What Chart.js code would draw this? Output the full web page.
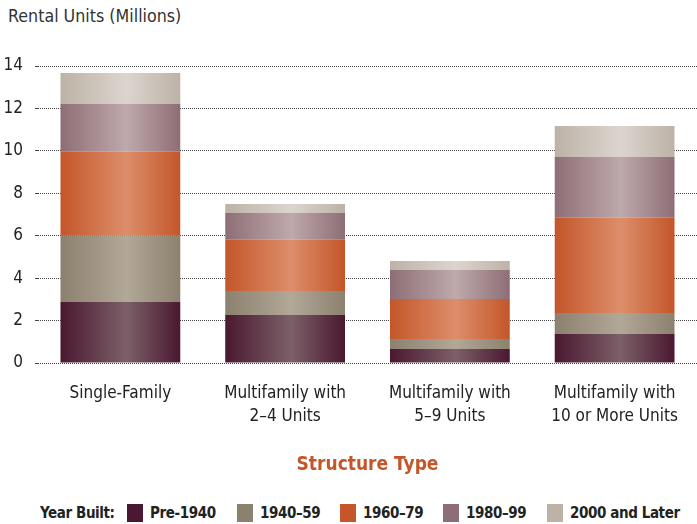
<!DOCTYPE html>
<html>
<head>
<meta charset="utf-8">
<script src="https://cdn.jsdelivr.net/npm/chart.js@4/dist/chart.umd.min.js"></script>
<style>
  body { margin: 0; background: #fff; font-family: "Liberation Sans Narrow", "DejaVu Sans Condensed", sans-serif; }
  #wrap { position: absolute; left: 0; top: 0; width: 697px; height: 480px; }
  #ytitle { position: absolute; left: 8px; top: 6px; font-size: 17.7px; color: #333; }
  #legend { position: absolute; left: 0; top: 502px; width: 697px; height: 22px;
            font-weight: bold; font-size: 15px; letter-spacing: -0.4px; color: #222; white-space: nowrap; }
  #legend span.t { position: absolute; top: 2px; }
  #legend span.sw { position: absolute; top: 2px; width: 16px; height: 18px; }
</style>
</head>
<body>
<div id="ytitle">Rental Units (Millions)</div>
<div id="wrap"><canvas id="myChart"></canvas></div>
<div id="legend"></div>
<script>
const categories = ['Single-Family', ['Multifamily with', '2–4 Units'], ['Multifamily with', '5–9 Units'], ['Multifamily with', '10 or More Units']];
const series_names = ['Pre-1940', '1940–59', '1960–79', '1980–99', '2000 and Later'];
const pre1940 = [2.89, 2.26, 0.66, 1.38];
const built1940_59 = [3.11, 1.13, 0.47, 0.98];
const built1960_79 = [3.96, 2.42, 1.89, 4.49];
const built1980_99 = [2.26, 1.26, 1.36, 2.86];
const built2000_later = [1.45, 0.43, 0.43, 1.46];
const y_ticks = [0, 2, 4, 6, 8, 10, 12, 14];

const edgeColors = ['#4a1830', '#8c806e', '#c4562a', '#8e6e76', '#bcb2a6'];
const midColors = ['#7c6068', '#b2a898', '#dc8e6a', '#bea9ab', '#dcd5cf'];
const barPct = 0.727;
const legendSwatchX = [127, 237, 340, 443, 547];

// horizontal shading across each bar
function barGradient(i) {
    return function(c) {
        const chart = c.chart;
        const xs = chart.scales.x;
        if (c.type !== 'data' || !xs) return edgeColors[i];
        const cx = xs.getPixelForValue(c.dataIndex);
        const half = (xs.right - xs.left) / categories.length * barPct / 2;
        if (!isFinite(cx) || !isFinite(half) || half <= 0) return edgeColors[i];
        const g = chart.ctx.createLinearGradient(cx - half, 0, cx + half, 0);
        g.addColorStop(0, edgeColors[i]);
        g.addColorStop(0.55, midColors[i]);
        g.addColorStop(1, edgeColors[i]);
        return g;
    };
}

const allData = [pre1940, built1940_59, built1960_79, built1980_99, built2000_later];
const datasets = allData.map(function(d, i) {
    return {
        label: series_names[i],
        data: d,
        backgroundColor: barGradient(i),
        borderWidth: 0,
        barPercentage: barPct,
        categoryPercentage: 1
    };
});

const font = "'Liberation Sans Narrow', 'DejaVu Sans Condensed', sans-serif";

const ctx = document.getElementById('myChart').getContext('2d');
new Chart(ctx, {
    type: 'bar',
    data: { labels: categories, datasets: datasets },
    options: {
        animation: false,
        responsive: true,
        maintainAspectRatio: false,
        layout: { padding: { top: 66, right: 0, left: 0, bottom: 0 } },
        plugins: { legend: { display: false }, tooltip: { enabled: false } },
        scales: {
            x: {
                stacked: true,
                grid: { display: false },
                border: { display: false },
                ticks: { color: '#222', font: { family: font, size: 17, lineHeight: 1.3 }, padding: 12 },
                title: { display: true, text: 'Structure Type', color: '#c4562a',
                         font: { family: font, size: 19, weight: 'bold' }, padding: { top: 22 } },
                afterFit: function(s) { s.height = 117; }
            },
            y: {
                stacked: true,
                min: 0, max: 14,
                afterBuildTicks: function(s) { s.ticks = y_ticks.map(function(v) { return { value: v }; }); },
                grid: { color: '#444', lineWidth: 1, tickLength: 3, drawTicks: true },
                border: { display: false, dash: [1, 1] },
                ticks: { color: '#222', font: { family: font, size: 17 }, padding: 12 },
                afterFit: function(s) { s.width = 38; }
            }
        }
    }
});

// legend built from the series arrays
const lg = document.getElementById('legend');
const lab = document.createElement('span');
lab.className = 't';
lab.textContent = 'Year Built:';
lab.style.left = '40px';
lg.appendChild(lab);
series_names.forEach(function(n, i) {
    const sw = document.createElement('span');
    sw.className = 'sw';
    sw.style.left = legendSwatchX[i] + 'px';
    sw.style.background = edgeColors[i];
    lg.appendChild(sw);
    const t = document.createElement('span');
    t.className = 't';
    t.style.left = (legendSwatchX[i] + 23) + 'px';
    t.textContent = n;
    lg.appendChild(t);
});
</script>
</body>
</html>
